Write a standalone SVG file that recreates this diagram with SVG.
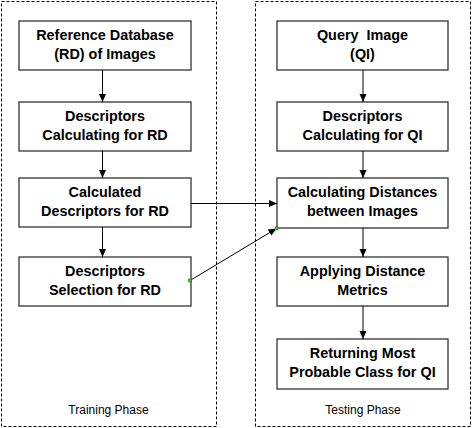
<svg xmlns="http://www.w3.org/2000/svg" width="472" height="428" viewBox="0 0 472 428">
<style>
.phase{fill:none;stroke:#000;stroke-width:1;stroke-dasharray:3 2}
.box{fill:#fff;stroke:#333;stroke-width:1.3}
.t{font-family:"Liberation Sans",Arial,sans-serif;font-weight:bold;font-size:14.4px;fill:#000;text-anchor:middle;white-space:pre}
.pl{font-family:"Liberation Sans",Arial,sans-serif;font-size:12px;fill:#000;text-anchor:middle}
.c{fill:none;stroke:#000;stroke-width:1}
.dot{fill:#22dd22;stroke:#116611;stroke-width:0.5}
</style>
<defs>
<marker id="ah" viewBox="0 0 8 8" refX="8" refY="4" markerWidth="8" markerHeight="8" markerUnits="userSpaceOnUse" orient="auto">
<path d="M0,0.5 L8,4 L0,7.5 Z" fill="#000"/>
</marker>
</defs>
<g id="training-phase">
<rect class="phase" x="1.5" y="1.5" width="215" height="425"/>
<text class="pl" x="108.5" y="414">Training Phase</text>
</g>
<g id="testing-phase">
<rect class="phase" x="255.5" y="1.5" width="215" height="425"/>
<text class="pl" x="363" y="414">Testing Phase</text>
</g>
<g id="rd">
<rect class="box" x="19" y="21" width="172" height="49"/>
<text class="t" x="105" y="40">Reference Database</text>
<text class="t" x="105" y="59">(RD) of Images</text>
</g>
<g id="desc-calc-rd">
<rect class="box" x="19" y="102" width="172" height="49"/>
<text class="t" x="105" y="121">Descriptors</text>
<text class="t" x="105" y="140">Calculating for RD</text>
</g>
<g id="calc-desc-rd">
<rect class="box" x="19" y="178" width="172" height="49"/>
<text class="t" x="105" y="197">Calculated</text>
<text class="t" x="105" y="216">Descriptors for RD</text>
</g>
<g id="desc-sel-rd">
<rect class="box" x="19" y="257" width="172" height="49"/>
<text class="t" x="105" y="276">Descriptors</text>
<text class="t" x="105" y="295">Selection for RD</text>
</g>
<g id="qi">
<rect class="box" x="277" y="21" width="171" height="49"/>
<text class="t" x="362.5" y="40">Query  Image</text>
<text class="t" x="362.5" y="59">(QI)</text>
</g>
<g id="desc-calc-qi">
<rect class="box" x="277" y="102" width="171" height="49"/>
<text class="t" x="362.5" y="121">Descriptors</text>
<text class="t" x="362.5" y="140">Calculating for QI</text>
</g>
<g id="calc-dist">
<rect class="box" x="277" y="178" width="171" height="50"/>
<text class="t" x="362.5" y="197">Calculating Distances</text>
<text class="t" x="362.5" y="216">between Images</text>
</g>
<g id="apply-metrics">
<rect class="box" x="277" y="257" width="171" height="49"/>
<text class="t" x="362.5" y="276">Applying Distance</text>
<text class="t" x="362.5" y="295">Metrics</text>
</g>
<g id="return-class">
<rect class="box" x="277" y="339" width="171" height="50"/>
<text class="t" x="362.5" y="358">Returning Most</text>
<text class="t" x="362.5" y="377">Probable Class for QI</text>
</g>
<g id="connectors">
<line class="c" x1="102.5" y1="70" x2="102.5" y2="102" marker-end="url(#ah)"/>
<line class="c" x1="102.5" y1="151" x2="102.5" y2="178" marker-end="url(#ah)"/>
<line class="c" x1="102.5" y1="227" x2="102.5" y2="257" marker-end="url(#ah)"/>
<line class="c" x1="363" y1="70" x2="363" y2="102" marker-end="url(#ah)"/>
<line class="c" x1="363" y1="151" x2="363" y2="178" marker-end="url(#ah)"/>
<line class="c" x1="363" y1="228" x2="363" y2="257" marker-end="url(#ah)"/>
<line class="c" x1="363" y1="306" x2="363" y2="339" marker-end="url(#ah)"/>
<line class="c" x1="191" y1="203.5" x2="277" y2="203.5" stroke-width="2" marker-end="url(#ah)"/>
<line class="c" x1="190" y1="280.5" x2="276.5" y2="228.5" marker-end="url(#ah)"/>
<rect class="dot" x="188.5" y="279" width="3" height="3"/>
<rect class="dot" x="275" y="227" width="3" height="3"/>
</g>
</svg>
